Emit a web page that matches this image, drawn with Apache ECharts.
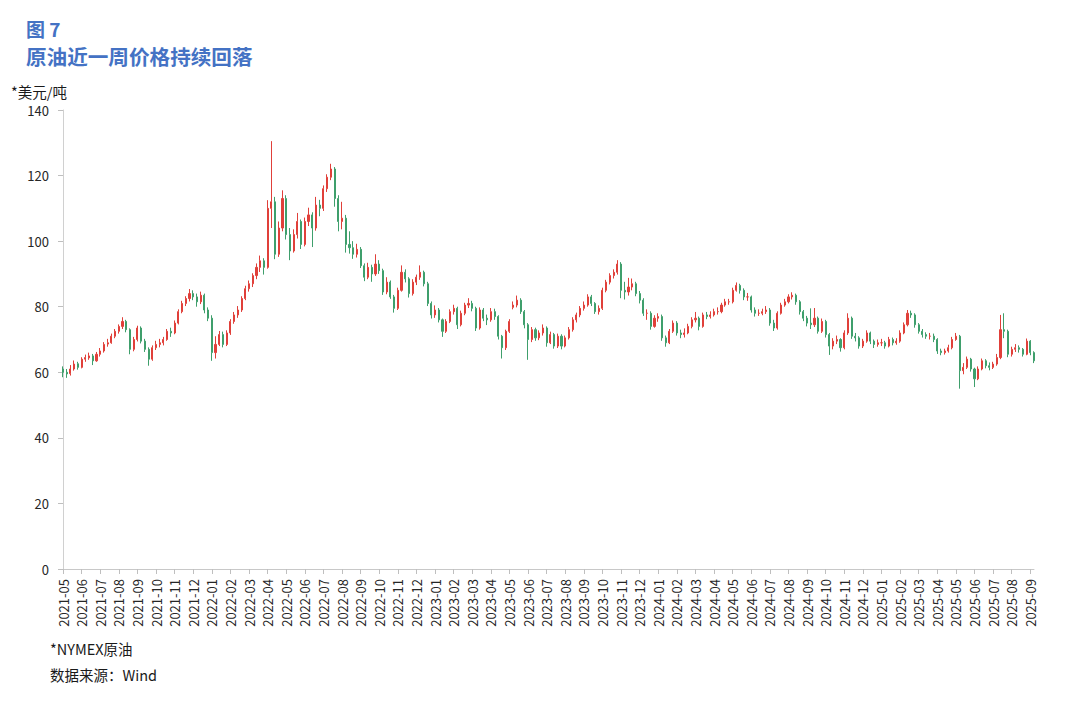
<!DOCTYPE html>
<html>
<head>
<meta charset="utf-8">
<script src="https://cdn.jsdelivr.net/npm/echarts@6/dist/echarts.min.js"></script>
<style>
html,body{margin:0;padding:0;background:#fff;}
#chart{width:1080px;height:705px;}
</style>
</head>
<body>
<div id="chart"></div>
<script>
// Month tick labels (one label every 5 candles)
const monthLabels = [
  '2021-05','2021-06','2021-07','2021-08','2021-09','2021-10','2021-11','2021-12',
  '2022-01','2022-02','2022-03','2022-04','2022-05','2022-06','2022-07','2022-08','2022-09','2022-10','2022-11','2022-12',
  '2023-01','2023-02','2023-03','2023-04','2023-05','2023-06','2023-07','2023-08','2023-09','2023-10','2023-11','2023-12',
  '2024-01','2024-02','2024-03','2024-04','2024-05','2024-06','2024-07','2024-08','2024-09','2024-10','2024-11','2024-12',
  '2025-01','2025-02','2025-03','2025-04','2025-05','2025-06','2025-07','2025-08','2025-09'
];
const yTicks = [0, 20, 40, 60, 80, 100, 120, 140];

// NYMEX crude candles: [open, close, low, high] (USD)
const k2021 = [
  [61,60,58.5,61.8],[60,59.5,58.3,61],[59.6,61,59,62.2],[61,62.5,60.5,63.6],[62.6,61.5,60.8,63.2],
  [61.5,64,61.2,64.6],[64,64.5,63.2,65.4],[64.4,65,63.8,66],[65,63.5,62.2,65.6],[63.5,65.5,63.2,66.2],
  [65.5,66.5,64.8,67.4],[66.5,68.5,66,69.2],[68.6,69,67.8,70.2],[69,71,68.7,71.8],[71,72.5,70.4,73.2],
  [72.5,74,71.8,74.6],[74,75.5,73.2,76.8],[75.5,73,72.2,76],[73,67,65.5,73.4],[67,70,66.4,70.8],
  [70,73.5,69.4,74.2],[73.5,69.5,68.8,74],[69.5,67,66.2,70.2],[67,64,62,67.6],[64,67.5,63.5,68.2],
  [67.5,68.5,66.8,69.6],[68.5,69,67.6,70.2],[69,70,68.2,70.8],[70,72.5,69.6,73.2],[72.5,72,70.8,73.6],
  [72,75,71.6,75.8],[75,78.5,74.6,79.2],[78.5,81,78,81.8],[81,82.5,80.2,83.2],[82.5,84,81.6,85.4],
  [84,83,82,85],[83,81.5,80,84],[81.5,83.5,80.8,84.6],[83.5,79,78,84],[79,76.5,75.6,79.8]
];
const k2022 = [
  [76.5,66,63.5,77.4],[66,68.5,64.2,71],[68.5,71.5,68,72.6],[71.5,68.5,67.6,72.4],[68.5,72,68,72.8],
  [72,75.5,71.4,76.2],[75.5,77.5,74.8,78.4],[77.5,79,76.6,80.2],[79,82.5,78.4,83.2],[82.5,85.5,82,86.4],
  [85.5,87,84.6,88],[87,89.5,86,90.2],[89.5,92,88.4,93.2],[92,94,90.6,95.6],[94,92,89.8,94.8],
  [92,110,91.6,112.5],[110,112,104,130.5],[112,96,94.5,113.5],[96,104,95.2,106],[104,113,103,115.5],
  [113,102,100.5,114],[102,97,94.2,104],[97,102,96.5,103.6],[102,106,100.8,108.6],[106,99,97.6,106.6],
  [99,106,98.4,107.2],[106,108,104.6,110.2],[108,104,98.2,108.8],[104,111,103.2,113.5],[111,110,107.6,112.6],
  [110,116,109.2,117],[116,119.5,115,120.4],[119.5,122,118.6,123.6],[122,113,110.5,122.6],[113,106,103,114],
  [106,107,103.6,112],[107,99,96.5,108],[99,98,96.2,103],[98,96,94.6,100],[96,97.5,95,99.2],
  [97.5,92.5,91.8,98.2],[92.5,89,87.8,93.2],[89,92,88.4,93.4],[92,90,87.6,92.8],[90,93,89.4,96],
  [93,91,90,94.2],[91,84.5,83.6,91.6],[84.5,87.5,83.8,89],[87.5,83,82.4,88],[83,79.5,78.2,83.6],
  [79.5,85,79,85.8],[85,90.5,84.6,92.6],[90.5,88.5,87.4,91.4],[88.5,84,82.8,89],[84,87.5,83.4,88.4],
  [87.5,89,86.6,89.8],[89,90.5,88.2,92.6],[90.5,87,86.2,91],[87,81,80.2,87.6],[81,77.5,76.4,81.6]
];
const k2023 = [
  [77.5,79,76.6,80.4],[79,76,75.2,79.6],[76,72.5,70.8,76.4],[72.5,75.5,72,76.2],[75.5,78.5,75,79.2],
  [78.5,79.5,77.6,80.6],[79.5,74.5,73.2,80],[74.5,78,74,78.8],[78,80.5,77.4,81.2],[80.5,81,79.6,82.6],
  [81,79.5,78.6,81.8],[79.5,73.5,72.6,80],[73.5,79,73,79.8],[79,76.5,75.6,79.6],[76.5,76,74.4,77.6],
  [76,78.5,75.4,79.6],[78.5,77,76,79.4],[77,71,70,77.4],[71,67.5,64.2,71.4],[67.5,72.5,66.8,73],
  [72.5,75.5,72,76.2],[79.8,80.5,79.2,81.6],[80.5,82,79.8,83.4],[82,78.5,77.8,82.6],[78.5,74.5,73.4,79],
  [74.5,70,63.8,75],[70,73,69.2,73.8],[73,70.5,69.6,73.6],[70.5,72,69.8,72.8],[72,73.5,71.2,74.6],
  [73.5,69,67.8,74],[69,71.5,68.6,72.4],[71.5,68,67.2,72],[68,71,67.4,71.8],[71,68,67,71.6],
  [68,70.5,67.6,71.2],[70.5,73,70,73.8],[73,76,72.4,76.8],[76,77.5,75.2,78.2],[77.5,79.5,76.8,80.2],
  [79.5,80.5,78.8,81.6],[80.5,83,80,83.8],[83,81,80.2,83.6],[81,78.5,77.8,81.4],[78.5,79.5,77.6,80.4],
  [79.5,85,79,85.8],[85,87.5,84.4,88.2],[87.5,89.5,86.8,90.2],[89.5,90.5,88.6,91.4],[90.5,93,89.8,94.2],
  [93,85,82.6,93.6],[85,84.5,82.2,87.6],[84.5,86,83.4,88.8],[86,87,85,88.6],[87,84,83.2,87.6],
  [84,82,81,84.8],[82,78,77.2,82.6],[78,78,76,79.2],[78,74,73,78.6],[74,76.5,73.6,77.4]
];
const k2024 = [
  [76.5,77,75.4,78],[77,70.5,69.6,77.6],[70.5,69,67.8,71.2],[69,72.5,68.6,73.2],[72.5,75,72,75.8],
  [75,72,71.2,75.6],[72,71.5,70.4,73],[71.5,72,70.6,73.4],[72,74,71.6,74.8],[74,76,73.4,76.8],
  [76,76.5,75.2,78.4],[76.5,74,72.8,77],[74,77.5,73.6,78.2],[77.5,77,76.2,78.4],[77,77.5,76.4,78.6],
  [77.5,78.5,77,79.4],[78.5,78.5,77.6,79.8],[78.5,80.5,78,81.2],[80.5,81.5,80,82.4],[81.5,81.5,80.6,82.4],
  [81.5,85,81,85.8],[85,86.5,84.6,87.4],[86.5,85,84,87],[85,83,82,85.6],[83,83,81.8,84.2],
  [83,79,78.2,83.4],[79,78,77,79.8],[78,78,77.2,79.2],[78,78.5,77.4,79.4],[78.5,79,77.8,80.2],
  [79,75,74.2,79.6],[75,73.5,72.6,76],[73.5,78,73,78.6],[78,80.5,77.6,81.2],[80.5,81.5,80,82.4],
  [81.5,83,81,83.8],[83,83.5,82.2,84.4],[83.5,81.5,80.6,84],[81.5,78.5,77.6,82],[78.5,76.5,75.6,79],
  [76.5,75,74,77.2],[75,74.5,73.2,79.5],[74.5,76.5,73.8,79.6],[76.5,72.5,71.8,77],[72.5,75.5,72,76.4],
  [75.5,71.5,70.6,76],[71.5,68,65.3,72],[68,69.5,67,70.4],[69.5,70,68.6,71.2],[70,67.5,66.3,70.4],
  [67.5,72,67,72.8],[72,76.5,71.4,78],[76.5,71,70.2,77],[71,70.5,69.4,72],[70.5,68,67.2,71],
  [68,69.5,67.4,70.2],[69.5,72,69,72.8],[72,69.5,68.6,72.4],[69.5,68.5,67.4,70],[68.5,69,67.8,70]
];
const k2025 = [
  [69,69,68,70.2],[69,68,67.2,69.6],[68,70,67.6,70.8],[70,69,68.2,70.6],[69,69.5,68.4,70.4],
  [69.5,72,69,72.8],[72,74.5,71.6,75.2],[74.5,78,74,79],[78,77.5,76.6,78.8],[77.5,74.5,73.6,78],
  [74.5,72.5,71.8,75],[72.5,71.5,70.6,73.2],[71.5,71,70.2,72.2],[71,71,70,72],[71,70,69.2,71.8],
  [70,66.5,65.6,70.4],[66.5,66,65.2,67.2],[66,66.5,65.4,67.2],[66.5,67.5,66,68.4],[67.5,70,67,70.8],
  [70,71,69.6,72],[71,60.5,55,71.4],[60.5,61.5,59.4,62.8],[61.5,64,61,64.8],[64,61,60.2,64.4],
  [61,58,55.5,61.4],[58,61,57.6,61.8],[61,63.5,60.6,64.2],[63.5,62,61.2,64],[62,61.5,60.6,63],
  [61.5,62.5,61,63.2],[62.5,64.5,62,65.6],[64.5,73,64,77.5],[73,72.5,70.4,78],[72.5,65.5,64.6,73],
  [65.5,67,64.8,67.8],[67,67.5,66.2,68.6],[67.5,67,66,68.2],[67,65.5,64.8,67.4],[65.5,69.5,65.2,70.3],
  [69.5,66,65.2,69.8],[66,63.5,62.8,66.4]
];

const candles = [].concat(k2021, k2022, k2023, k2024, k2025);
const categories = candles.map((_, i) => monthLabels[Math.floor(i / 5)] + '/' + (i % 5 + 1));

const FONT = '"Noto Sans CJK SC", "Noto Sans", sans-serif';
const BLUE = '#4472C4';

const chart = echarts.init(document.getElementById('chart'), null, {renderer: 'svg'});
chart.setOption({
  animation: false,
  backgroundColor: '#ffffff',
  textStyle: {fontFamily: FONT},
  graphic: [
    {type: 'text', left: 26, top: 19, style: {text: '图 7', fontSize: 19, fontWeight: 'bold', fill: BLUE, fontFamily: FONT}},
    {type: 'text', left: 26, top: 46, style: {text: '原油近一周价格持续回落', fontSize: 20.6, fontWeight: 'bold', fill: BLUE, fontFamily: FONT}},
    {type: 'text', left: 11, top: 84, style: {text: '*美元/吨', fontSize: 14.5, fill: '#1a1a1a', fontFamily: FONT}},
    {type: 'text', left: 50, top: 641, style: {text: '*NYMEX原油', fontSize: 14.5, fill: '#1a1a1a', fontFamily: FONT}},
    {type: 'text', left: 50, top: 667, style: {text: '数据来源：Wind', fontSize: 14.5, fill: '#1a1a1a', fontFamily: FONT}}
  ],
  grid: {left: 63, right: 46, top: 110, bottom: 136, containLabel: false},
  xAxis: {
    type: 'category',
    data: categories,
    boundaryGap: false,
    axisLine: {show: true, lineStyle: {color: '#c8c8c8', width: 1}},
    axisTick: {show: true, interval: 4, length: 5, lineStyle: {color: '#bfbfbf'}},
    axisLabel: {
      interval: 4, rotate: 90, margin: 10, fontSize: 13, color: '#262626', fontFamily: FONT,
      formatter: v => v.split('/')[0]
    },
    splitLine: {show: false}
  },
  yAxis: {
    type: 'value',
    min: yTicks[0], max: yTicks[yTicks.length - 1], interval: 20,
    axisLine: {show: true, lineStyle: {color: '#d0d0d0', width: 1}},
    axisTick: {show: true, length: 5, lineStyle: {color: '#bfbfbf'}},
    axisLabel: {fontSize: 13, color: '#262626', margin: 14, fontFamily: FONT},
    splitLine: {show: false}
  },
  series: [{
    type: 'candlestick',
    data: candles,
    barWidth: 1.6,
    itemStyle: {
      color: '#e0403a', color0: '#3f9f6c',
      borderColor: '#e0403a', borderColor0: '#3f9f6c', borderWidth: 1
    }
  }]
});
</script>
</body>
</html>
